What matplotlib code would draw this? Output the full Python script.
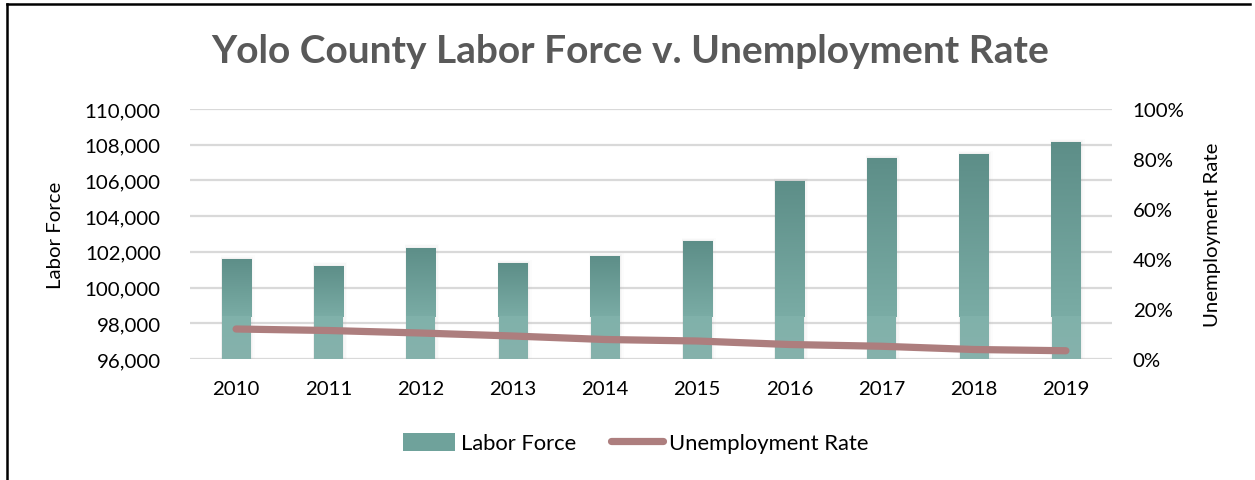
import matplotlib.pyplot as plt
import numpy as np
from matplotlib.colors import LinearSegmentedColormap
from matplotlib.lines import Line2D
from matplotlib.ticker import FuncFormatter, PercentFormatter

plt.rcParams['font.family'] = ['Lato', 'DejaVu Sans']

years = ['2010', '2011', '2012', '2013', '2014', '2015', '2016', '2017', '2018', '2019']
labor_force = [101620, 101230, 102240, 101380, 101770, 102600, 105980, 107260, 107480, 108160]
unemployment_rate = [0.120, 0.114, 0.104, 0.092, 0.078, 0.072, 0.058, 0.051, 0.038, 0.033]

fig = plt.figure(figsize=(12.55, 4.81), dpi=100)
ax = fig.add_axes([190 / 1255, 121 / 481, 922 / 1255, 250 / 481])

x = np.arange(len(years))
bars = ax.bar(x, labor_force, width=0.315, bottom=0, facecolor='none',
              edgecolor='none', label='Labor Force', zorder=2)

# vertical gradient fill for each bar, with a lighter band near the base
seam = 98370
top_cmap = LinearSegmentedColormap.from_list('top', ['#5d8e88', '#7aaca5'])
low_cmap = LinearSegmentedColormap.from_list('low', ['#80b1aa', '#86b2ac'])
for rect in bars:
    x0, w, h = rect.get_x(), rect.get_width(), rect.get_height()
    # soft shadow
    for k, a in enumerate([0.05, 0.035, 0.02]):
        d = 0.012 * (k + 1)
        sh = plt.Rectangle((x0 - d * 0.3, 96000), w + d * 1.6, h - 96000 + 60 * (k + 1),
                           facecolor='#888888', alpha=a, edgecolor='none', zorder=1.5)
        ax.add_patch(sh)
    grad = np.linspace(0, 1, 256).reshape(-1, 1)
    im = ax.imshow(grad, cmap=top_cmap, aspect='auto', extent=(x0, x0 + w, seam, h),
                   origin='upper', zorder=2.1, interpolation='bicubic')
    im.set_clip_path(rect)
    im2 = ax.imshow(grad, cmap=low_cmap, aspect='auto', extent=(x0 + 0.005, x0 + w - 0.005, 96000, seam),
                    origin='upper', zorder=2.1, interpolation='bicubic')
    im2.set_clip_path(rect)

ax.set_xlim(-0.5, len(years) - 0.5)
ax.set_ylim(96000, 110000)
ax.set_yticks(np.arange(96000, 110001, 2000))
ax.yaxis.set_major_formatter(FuncFormatter(lambda v, p: f'{v:,.0f}'))
ax.set_xticks(x, years)
ax.grid(axis='y', color='#d9d9d9', linewidth=1.6, zorder=0)
ax.set_axisbelow(True)
for s in ax.spines.values():
    s.set_visible(False)
ax.tick_params(length=0, labelsize=14.7, colors='#000000', pad=21)
ax.tick_params(axis='x', pad=15)
ax.set_ylabel('Labor Force', fontsize=14.7, labelpad=15)

ax2 = ax.twinx()
ax2.set_ylim(0, 1)
ax2.set_yticks(np.arange(0, 1.01, 0.2))
ax2.yaxis.set_major_formatter(PercentFormatter(1.0, decimals=0))
for s in ax2.spines.values():
    s.set_visible(False)
ax2.tick_params(length=0, labelsize=14.7, colors='#000000', pad=15)
line, = ax2.plot(x, unemployment_rate, color='#ad7e7e', linewidth=5.2,
                 solid_capstyle='round', solid_joinstyle='round', label='Unemployment Rate')
ax2.set_ylabel('Unemployment Rate', fontsize=14.7, labelpad=14)

fig.text(0.502, 0.893, 'Yolo County Labor Force v. Unemployment Rate', ha='center', va='center',
         fontsize=28, fontweight='bold', color='#595959')

proxy_bar = plt.Rectangle((0, 0), 1, 1, facecolor='#6fa29b', edgecolor='none')
fig.legend([proxy_bar, line], ['Labor Force', 'Unemployment Rate'], loc='center',
           bbox_to_anchor=(0.5064, 0.077), ncol=2, frameon=False, fontsize=15.8,
           handlelength=2.37, handletextpad=0.27, columnspacing=1.6, handleheight=0.9)

# outer frame on left and top
fig.add_artist(Line2D([6.5 / 1255, 6.5 / 1255], [0, 1 - 5 / 481], color='black', linewidth=1.8,
                      transform=fig.transFigure))
fig.add_artist(Line2D([6.5 / 1255, 1250 / 1255], [1 - 5 / 481, 1 - 5 / 481], color='black',
                      linewidth=1.8, transform=fig.transFigure))

fig.savefig('out.png', dpi=100)
